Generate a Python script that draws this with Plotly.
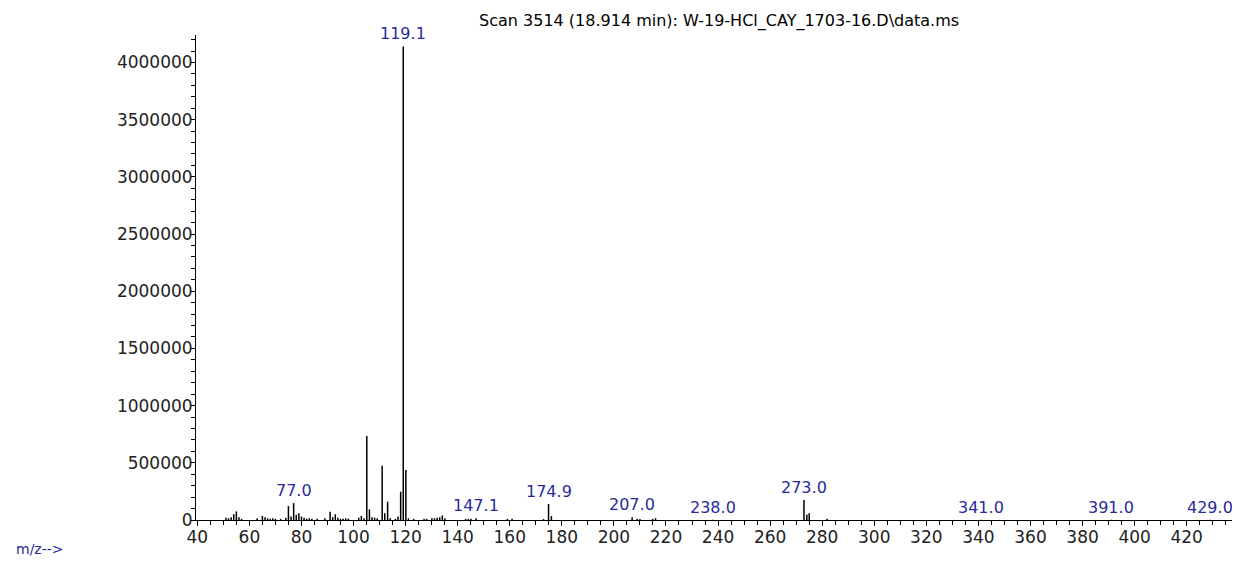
import plotly.graph_objects as go

# ---- data ----
mz = [51, 52, 53, 54, 55, 56, 57, 63, 65, 66, 67, 68, 69, 70, 72, 74, 75, 76, 77.0, 78, 79, 80, 81,
      82, 83, 84, 86, 89, 91, 92, 93, 94, 95, 96, 97, 98, 102, 103, 104,
      105.1, 106.1, 107.1, 108.1, 109.1, 111.0, 112.0, 113.1, 114.1, 116.1, 117.1, 118.1, 119.1, 120.1, 121.1,
      123.1, 127.1, 128.1, 130.1, 131.1, 132.1, 133.1, 134.1, 135.1,
      143.1, 144.1, 145.1, 147.1, 159.1, 160.9, 173.0, 174.9, 176.0,
      207.0, 208.9, 210.0, 214.9, 216.0, 238.0, 273.0, 274.1, 275.0, 281.9,
      341.0, 391.0, 429.0]
abundance = [20000, 15000, 25000, 50000, 75000, 25000, 10000, 15000, 35000, 25000, 15000, 12000, 15000, 10000,
             10000, 20000, 122000, 30000, 148000, 45000, 60000, 30000, 20000,
             12000, 15000, 10000, 10000, 15000, 73000, 25000, 50000, 20000, 10000, 12000, 15000, 12000,
             20000, 35000, 15000,
             735000, 93000, 25000, 20000, 15000, 475000, 60000, 160000, 15000, 10000, 30000, 247000, 4140000, 437000, 15000,
             10000, 10000, 10000, 15000, 15000, 20000, 25000, 40000, 15000,
             10000, 10000, 12000, 15000, 10000, 10000, 8000, 140000, 35000,
             25000, 10000, 8000, 10000, 15000, 3000, 175000, 45000, 60000, 10000,
             3000, 3000, 3000]
labeled_mz = [77.0, 119.1, 147.1, 174.9, 207.0, 238.0, 273.0, 341.0, 391.0, 429.0]
title_text = "Scan 3514 (18.914 min): W-19-HCl_CAY_1703-16.D\\data.ms"
x_ticks = list(range(40, 440, 20))
y_ticks = list(range(0, 4000001, 500000))

# build stick coordinates from the data
xs, ys = [], []
for m, a in zip(mz, abundance):
    xs += [m, m, None]
    ys += [0, a, None]

fig = go.Figure()
fig.add_trace(go.Scatter(x=xs, y=ys, mode="lines",
                         line=dict(color="black", width=1.5),
                         hoverinfo="skip", showlegend=False))

label_color = "#2a2a9a"
for m in labeled_mz:
    a = abundance[mz.index(m)]
    fig.add_annotation(x=m, y=a, text=f"{m:.1f}", showarrow=False,
                       yanchor="bottom", yshift=1,
                       font=dict(family="DejaVu Sans", size=16, color=label_color))

fig.add_annotation(xref="paper", yref="paper", x=-0.1747, y=-0.0608,
                   xanchor="left", yanchor="middle", text="m/z-->", showarrow=False,
                   font=dict(family="DejaVu Sans", size=14, color=label_color))

fig.update_layout(
    width=1232, height=554,
    margin=dict(l=188, r=2, t=27, b=41.5),
    paper_bgcolor="white", plot_bgcolor="white",
    title=dict(text=title_text, xref="paper", x=0.502, xanchor="center", y=0.978, yanchor="middle",
               font=dict(family="DejaVu Sans", size=16, color="black")),
    showlegend=False,
)
fig.update_xaxes(range=[39.5, 439.7], tickmode="array", tickvals=x_ticks,
                 showgrid=False, zeroline=False, showline=True, linecolor="black", linewidth=1,
                 ticks="outside", ticklen=5, tickcolor="black", ticklabelstandoff=-3,
                 minor=dict(dtick=5, ticks="outside", ticklen=4, tickcolor="black", showgrid=False),
                 tickfont=dict(family="DejaVu Sans", size=17, color="#222222"))
fig.update_yaxes(range=[0, 4240000], tickmode="array", tickvals=y_ticks,
                 ticktext=[str(v) for v in y_ticks],
                 showgrid=False, zeroline=False, showline=True, linecolor="black", linewidth=1,
                 ticks="outside", ticklen=5, tickcolor="black", ticklabelstandoff=-6,
                 minor=dict(dtick=100000, ticks="outside", ticklen=4, tickcolor="black", showgrid=False),
                 tickfont=dict(family="DejaVu Sans", size=17, color="#222222"))

fig.write_html("out.html")
